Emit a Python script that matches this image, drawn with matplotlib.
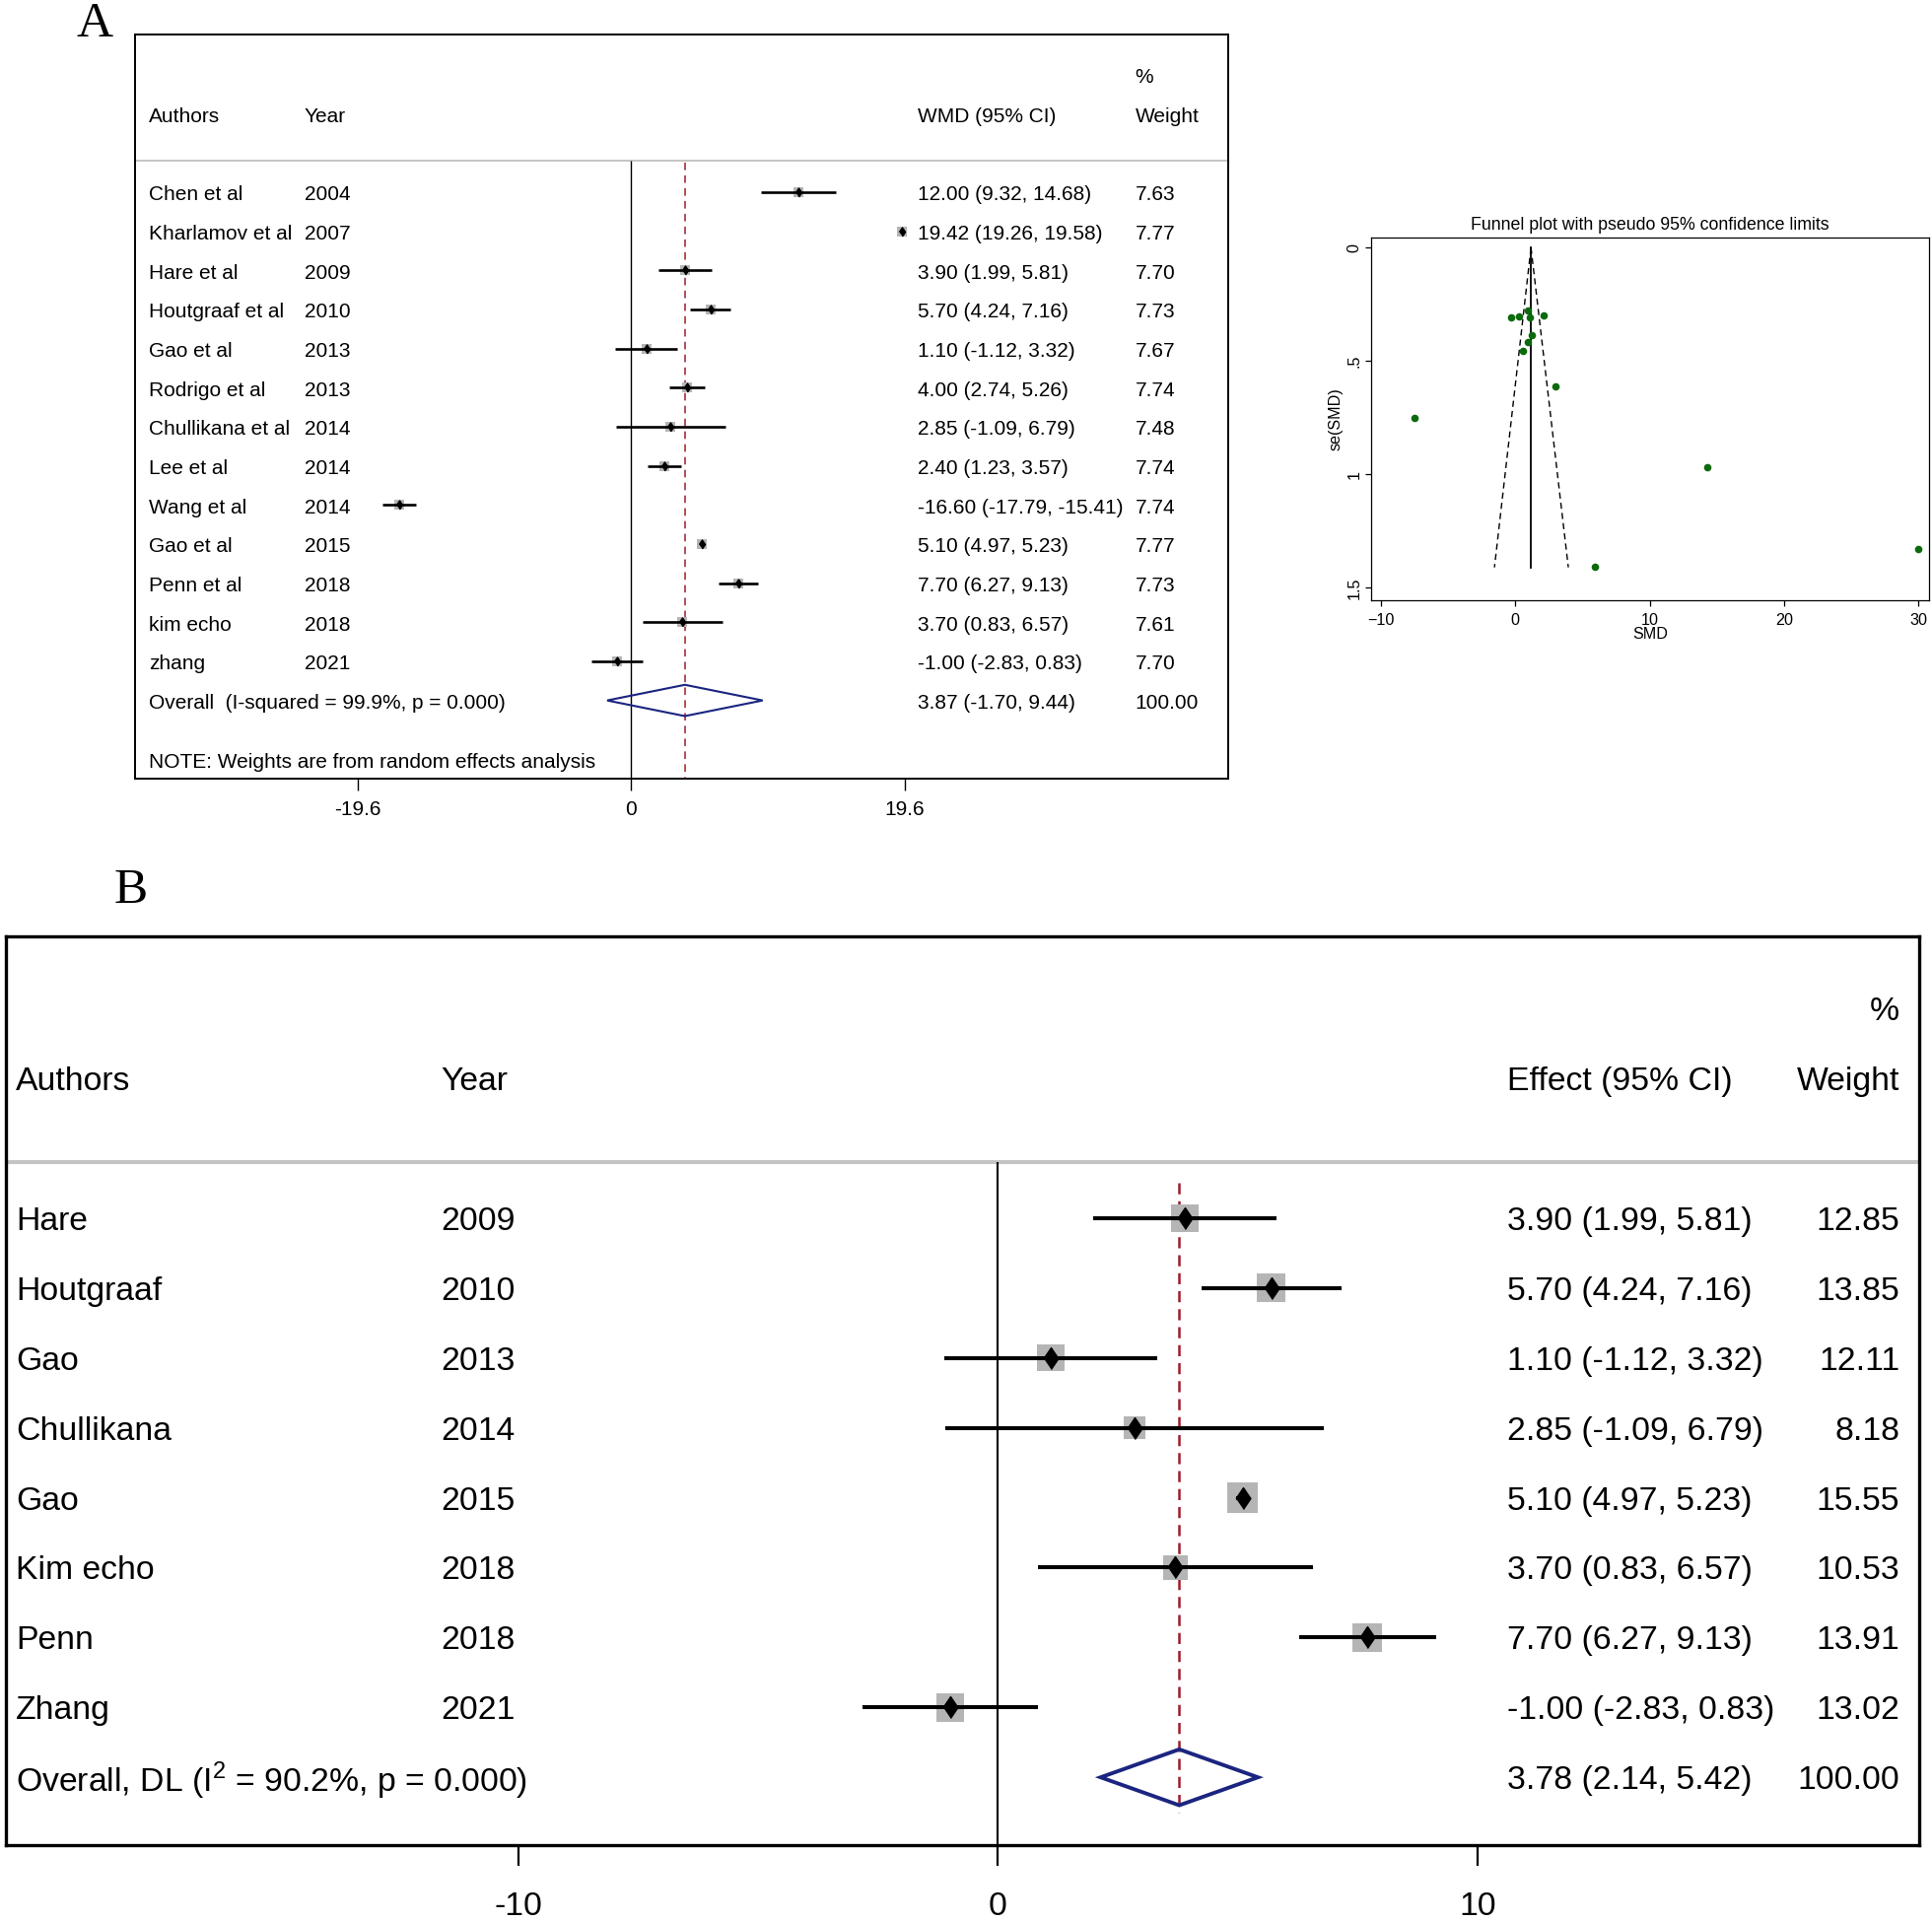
import numpy as np
import matplotlib
matplotlib.use('Agg')
import matplotlib.pyplot as plt
from matplotlib import font_manager
from matplotlib.patches import Polygon

# ---------------- data, panel A (WMD, random effects)
authors_a = ['Chen et al', 'Kharlamov et al', 'Hare et al', 'Houtgraaf et al', 'Gao et al',
             'Rodrigo et al', 'Chullikana et al', 'Lee et al', 'Wang et al', 'Gao et al',
             'Penn et al', 'kim echo', 'zhang']
years_a = ['2004', '2007', '2009', '2010', '2013', '2013', '2014', '2014', '2014', '2015',
           '2018', '2018', '2021']
wmd_a = [12.00, 19.42, 3.90, 5.70, 1.10, 4.00, 2.85, 2.40, -16.60, 5.10, 7.70, 3.70, -1.00]
lo_a = [9.32, 19.26, 1.99, 4.24, -1.12, 2.74, -1.09, 1.23, -17.79, 4.97, 6.27, 0.83, -2.83]
hi_a = [14.68, 19.58, 5.81, 7.16, 3.32, 5.26, 6.79, 3.57, -15.41, 5.23, 9.13, 6.57, 0.83]
weight_a = [7.63, 7.77, 7.70, 7.73, 7.67, 7.74, 7.48, 7.74, 7.74, 7.77, 7.73, 7.61, 7.70]
overall_a = (3.87, -1.70, 9.44)
overall_label_a = 'Overall  (I-squared = 99.9%, p = 0.000)'
ticks_a = [-19.6, 0, 19.6]
ticklabels_a = ['-19.6', '0', '19.6']

# ---------------- data, panel B
authors_b = ['Hare', 'Houtgraaf', 'Gao', 'Chullikana', 'Gao', 'Kim echo', 'Penn', 'Zhang']
years_b = ['2009', '2010', '2013', '2014', '2015', '2018', '2018', '2021']
eff_b = [3.90, 5.70, 1.10, 2.85, 5.10, 3.70, 7.70, -1.00]
lo_b = [1.99, 4.24, -1.12, -1.09, 4.97, 0.83, 6.27, -2.83]
hi_b = [5.81, 7.16, 3.32, 6.79, 5.23, 6.57, 9.13, 0.83]
weight_b = [12.85, 13.85, 12.11, 8.18, 15.55, 10.53, 13.91, 13.02]
overall_b = (3.78, 2.14, 5.42)
overall_label_b = 'Overall, DL (I$^{2}$ = 90.2%, p = 0.000)'
ticks_b = [-10, 0, 10]
ticklabels_b = ['-10', '0', '10']

# ---------------- data, funnel plot
funnel_smd = [-0.33, 0.27, 0.94, 1.09, 2.10, 1.23, 0.91, 0.59, 2.97, -7.51, 14.31, 5.95, 30.0]
funnel_se = [0.307, 0.304, 0.278, 0.307, 0.300, 0.386, 0.414, 0.457, 0.612, 0.751, 0.970, 1.409, 1.330]
pseudo_se = [0.0, 1.41]
pseudo_center = [1.17, 1.17]
pseudo_lower = [1.17, -1.55]
pseudo_upper = [1.17, 3.95]

# ---------------- fonts
names = {f.name for f in font_manager.fontManager.ttflist}
narrow = next((n for n in ['Liberation Sans Narrow', 'Arial Narrow'] if n in names), None)
if narrow:
    text_font, wfac = narrow, 1 / 0.82
else:
    text_font, wfac = 'Liberation Sans', 1.0
plain_font = 'Liberation Sans'
serif_font = 'Liberation Serif'
plt.rcParams['font.family'] = [text_font, 'DejaVu Sans']
plt.rcParams['mathtext.fontset'] = 'custom'
plt.rcParams['mathtext.rm'] = text_font

W, H = 1960, 1950
fig = plt.figure(figsize=(W / 100, H / 100), dpi=100)


def box(l, t, r, b):
    return [l / W, 1 - b / H, (r - l) / W, (b - t) / H]


def forest(ax, authors, years, est, lo, hi, weights, overall, overall_label, eff_head,
           cols, weight_ha, fs, ybot, sq_k, dm_ms, ci_lw, dia_lw, sep_lw, zero_lw,
           dash_lw, dash_pat, dash_span, dy, note=None):
    n = len(est)
    rows = np.arange(n)
    T = ax.get_yaxis_transform()
    ax.set_ylim(ybot, -4.03)

    def put(col, y, s, ha='left'):
        ax.text(col, y + dy, s, transform=T, fontsize=fs, va='center', ha=ha)

    # header
    put(cols[0], -2, 'Authors')
    put(cols[1], -2, 'Year')
    put(cols[2], -2, eff_head)
    put(cols[3], -2, 'Weight', weight_ha)
    put(cols[3], -3, '%', weight_ha)
    ax.axhline(-0.8, color='#c4c4c4', lw=sep_lw, zorder=1)

    # reference lines
    ax.vlines(0, -0.8, ybot, color='black', lw=zero_lw, zorder=1)
    ax.vlines(overall[0], dash_span[0], dash_span[1], color='#9e1c2c', lw=dash_lw,
              linestyles=(0, dash_pat), zorder=1)

    # studies
    side = sq_k * np.sqrt(np.array(weights)) * 0.72
    ax.scatter(est, rows, s=side ** 2, marker='s', color='#b5b5b5', lw=0, zorder=2)
    ax.hlines(rows, lo, hi, color='black', lw=ci_lw, zorder=3)
    ax.plot(est, rows, ls='none', marker=[(-0.68, 0), (0, 1), (0.68, 0), (0, -1)],
            ms=dm_ms, color='black', zorder=4)

    for i in range(n):
        put(cols[0], i, authors[i])
        put(cols[1], i, years[i])
        put(cols[2], i, '%.2f (%.2f, %.2f)' % (est[i], lo[i], hi[i]))
        put(cols[3], i, '%.2f' % weights[i], weight_ha)

    # overall
    e, l, h = overall
    ax.add_patch(Polygon([(l, n), (e, n - 0.4), (h, n), (e, n + 0.4)], closed=True,
                         fill=False, edgecolor='#1b2580', lw=dia_lw, zorder=4))
    put(cols[0], n, overall_label)
    put(cols[2], n, '%.2f (%.2f, %.2f)' % overall)
    put(cols[3], n, '100.00', weight_ha)
    if note:
        put(cols[0], n + 1.52, note)
    ax.set_yticks([])


# ---------------- panel A
axA = fig.add_axes(box(137, 35, 1246, 790))
axA.set_xlim(-35.53, 42.80)
fsA = 15 * wfac
forest(axA, authors_a, years_a, wmd_a, lo_a, hi_a, weight_a, overall_a, overall_label_a,
       'WMD (95% CI)', [0.0126, 0.155, 0.716, 0.915], 'left', fsA, 15.0,
       3.6, 6.5, 1.9, 1.5, 1.4, 1.0, 1.1, (5, 3.5), (-0.75, 15.0), 0.07,
       note='NOTE: Weights are from random effects analysis')
axA.set_xticks(ticks_a)
axA.set_xticklabels(ticklabels_a)
axA.tick_params(axis='x', direction='out', length=8.5, width=1.0, pad=7, labelsize=fsA)
for sp in axA.spines.values():
    sp.set_linewidth(1.4)

# ---------------- panel B
axB = fig.add_axes(box(6, 950, 1947, 1872))
axB.set_xlim(-20.69, 19.21)
fsB = 24.3 * wfac
forest(axB, authors_b, years_b, eff_b, lo_b, hi_b, weight_b, overall_b, overall_label_b,
       'Effect (95% CI)', [0.0052, 0.2272, 0.7847, 0.9897], 'right', fsB, 8.97,
       7.9, 15.8, 2.9, 2.8, 3.0, 1.5, 1.8, (4.5, 2.8), (-0.5, 8.5), 0.05)
axB.set_xticks(ticks_b)
axB.set_xticklabels(ticklabels_b)
axB.tick_params(axis='x', direction='out', length=15, width=1.6, pad=19, labelsize=fsB)
for sp in axB.spines.values():
    sp.set_linewidth(2.4)

# ---------------- funnel plot
axF = fig.add_axes(box(1391, 241, 1957, 609))
axF.scatter(funnel_smd, funnel_se, s=30, color='#0b6a0b', lw=0, zorder=3)
axF.plot(pseudo_center, pseudo_se, color='black', lw=1.3)
axF.plot(pseudo_lower, pseudo_se, color='black', lw=1.0, ls=(0, (4.5, 3)))
axF.plot(pseudo_upper, pseudo_se, color='black', lw=1.0, ls=(0, (4.5, 3)))
axF.set_xlim(-10.73, 30.8)
axF.set_ylim(1.555, -0.045)
axF.set_xticks([-10, 0, 10, 20, 30])
axF.set_yticks([0, 0.5, 1, 1.5])
axF.set_yticklabels(['0', '.5', '1', '1.5'], rotation=90, va='center')
axF.tick_params(direction='out', length=4, width=0.9, labelsize=11.6)
axF.tick_params(axis='x', pad=5)
axF.tick_params(axis='y', pad=3)
for lab in axF.get_xticklabels() + axF.get_yticklabels():
    lab.set_fontfamily(plain_font)
axF.set_xlabel('SMD', fontsize=11.6, family=plain_font, labelpad=0)
axF.set_ylabel('se(SMD)', fontsize=11.6, family=plain_font, labelpad=3)
axF.set_title('Funnel plot with pseudo 95% confidence limits', fontsize=12.8,
              family=plain_font, pad=6)
for sp in axF.spines.values():
    sp.set_linewidth(0.9)

# ---------------- panel letters
fig.text(78 / W, 1 - 37 / H, 'A', family=serif_font, fontsize=37, va='baseline', ha='left')
fig.text(116 / W, 1 - 916 / H, 'B', family=serif_font, fontsize=37, va='baseline', ha='left')

fig.savefig('out.png', dpi=100)
